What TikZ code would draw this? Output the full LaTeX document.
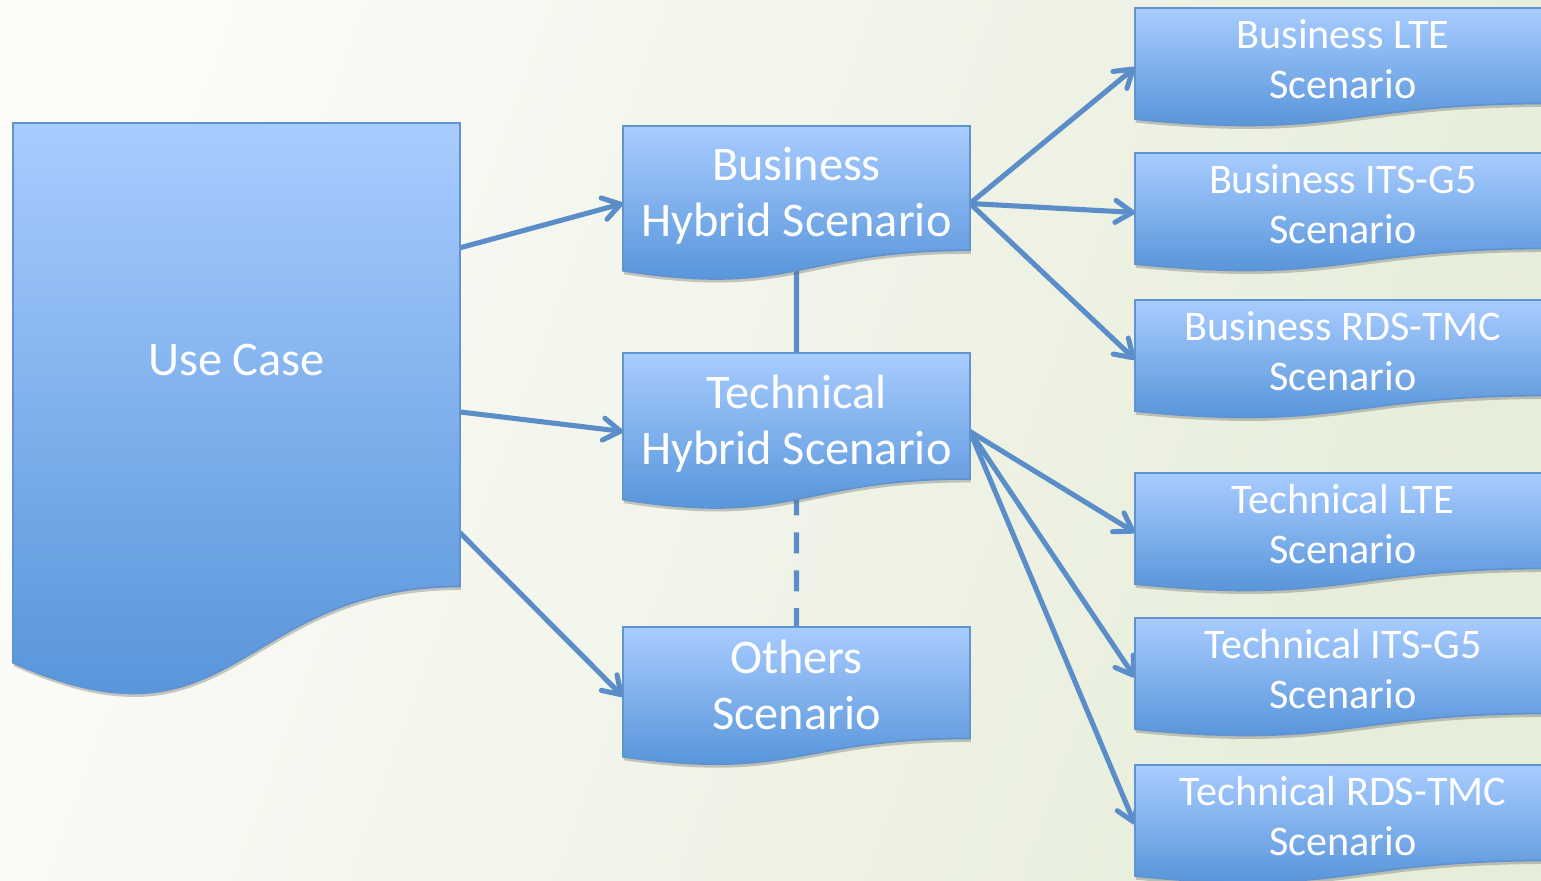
\documentclass[tikz,border=0pt]{standalone}
\usepackage{fontspec}
\setmainfont{Carlito}
\usetikzlibrary{arrows.meta,calc,shadows}
\definecolor{docTop}{HTML}{A8CCFF}
\definecolor{docBot}{HTML}{4F8FD6}
\definecolor{docLine}{HTML}{6093D0}
\definecolor{linkBlue}{HTML}{5B8EC9}
\definecolor{bgWhite}{HTML}{FBFBF8}
\definecolor{bgGreen}{HTML}{E6EDD9}
\tikzset{
  frame/.style={rectangle, inner sep=0pt, outer sep=0pt, anchor=north west},
  docfill/.style={top color=docTop, bottom color=docBot, draw=docLine, line width=1pt,
    drop shadow={shadow xshift=0.5pt, shadow yshift=-2pt, opacity=0.35, fill=black!60}},
  bigtext/.style={text=white, align=center, font=\fontsize{27.5}{32}\selectfont},
  smalltext/.style={text=white, align=center, font=\fontsize{24}{28.5}\selectfont},
  link/.style={draw=linkBlue, line width=2.9pt, line cap=round,
    -{Straight Barb[length=3.4mm,width=4.4mm,round]}},
  plainlink/.style={draw=linkBlue, line width=2.9pt},
}
\begin{document}
\begin{tikzpicture}[x=0.02cm, y=-0.02cm]
\useasboundingbox (0,0) rectangle (1541,881);
\clip (0,0) rectangle (1541,881);
\shade[left color=bgWhite, right color=bgGreen, shading angle=70] (0,0) rectangle (1541,881);

% frames of the document shapes
\node[frame, minimum width=8.94cm, minimum height=11.56cm] (usecase) at (13,123) {};
\node[frame, minimum width=6.94cm, minimum height=3.1cm] (bhybrid) at (623,126) {};
\node[frame, minimum width=6.94cm, minimum height=3.14cm] (thybrid) at (623,353) {};
\node[frame, minimum width=6.94cm, minimum height=2.78cm] (others) at (623,627) {};
\foreach \name/\top in {blte/8, bits/153, brds/300, tlte/473, tits/618, trds/765}
  \node[frame, minimum width=8.32cm, minimum height=2.38cm] (\name) at (1135,\top) {};

% connectors
\draw[plainlink] ($(bhybrid.north)!0.85!(bhybrid.south)$) -- (thybrid.north);
\draw[plainlink, dash pattern=on 0.42cm off 0.34cm] ($(thybrid.north)!0.9!(thybrid.south)$) -- (others.north);
\draw[link] ($(usecase.north east)!0.216!(usecase.south east)$) -- (bhybrid.west);
\draw[link] (usecase.east) -- (thybrid.west);
\draw[link] ($(usecase.north east)!0.709!(usecase.south east)$) -- (others.west);
\foreach \n in {blte,bits,brds}
  \draw[link] (bhybrid.east) -- (\n.west);
\foreach \n in {tlte,tits,trds}
  \draw[link] (thybrid.east) -- (\n.west);

% wavy documents
\foreach \n in {usecase,bhybrid,thybrid,others,blte,bits,brds,tlte,tits,trds}
  \shade[docfill] (\n.north west) -- (\n.north east) -- ($(\n.north east)!0.802!(\n.south east)$)
    .. controls ($(\n.north)!0.802!(\n.south)$) and ($(\n.north)!1.107!(\n.south)$)
    .. ($(\n.north west)!0.934!(\n.south west)$) -- cycle;

% texts
\node[bigtext] (usecasetext) at ($(usecase.north)!0.41!(usecase.south)$) {Use Case};
\node[bigtext] (bhybridtext) at ($(bhybrid.north)!0.45!(bhybrid.south)$) {Business\\Hybrid Scenario};
\node[bigtext] (thybridtext) at ($(thybrid.north)!0.45!(thybrid.south)$) {Technical\\Hybrid Scenario};
\node[bigtext] (otherstext) at ($(others.north)!0.415!(others.south)$) {Others\\Scenario};
\foreach \n/\txt in {blte/Business LTE, bits/Business ITS-G5, brds/Business RDS-TMC,
    tlte/Technical LTE, tits/Technical ITS-G5, trds/Technical RDS-TMC}
  \node[smalltext] (\n text) at ($(\n.north)!0.43!(\n.south)$) {\txt\\Scenario};
\end{tikzpicture}
\end{document}
